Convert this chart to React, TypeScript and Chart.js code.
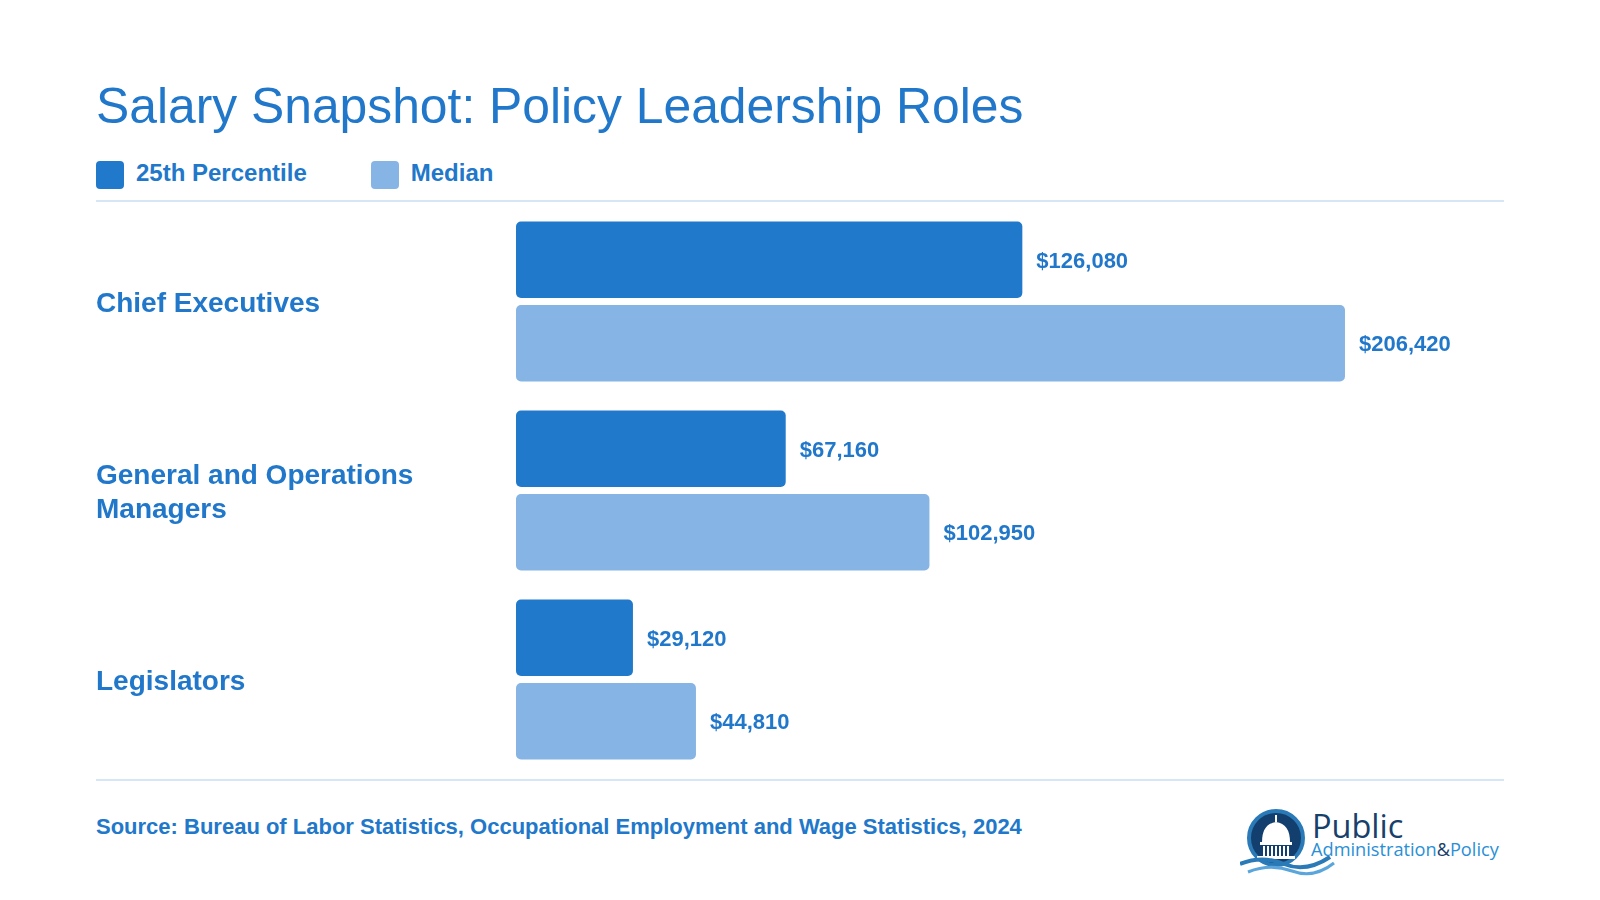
import React, { useEffect, useRef } from "react";
import { Chart, registerables } from "chart.js";

Chart.register(...registerables);

// ---- data ----
const categories: (string | string[])[] = [
  "Chief Executives",
  ["General and Operations", "Managers"],
  "Legislators",
];
const seriesNames = ["25th Percentile", "Median"];
const percentile25 = [126080, 67160, 29120];
const medianWage = [206420, 102950, 44810];
const xAxisMax = 250000;

const titleText = "Salary Snapshot: Policy Leadership Roles";
const sourceText =
  "Source: Bureau of Labor Statistics, Occupational Employment and Wage Statistics, 2024";

// ---- styles ----
const DARK = "#2179cb";
const LIGHT = "#86b4e4";
const TEXT = "#2178ca";
const RULE = "#d6e6f4";
const FONT = '"Liberation Sans", Arial, Helvetica, sans-serif';
const seriesColors = [DARK, LIGHT];

const valueLabelPlugin = {
  id: "valueLabels",
  afterDatasetsDraw(chart: any) {
    const ctx = chart.ctx;
    ctx.save();
    ctx.font = `bold 22px ${FONT}`;
    ctx.fillStyle = TEXT;
    ctx.textAlign = "left";
    ctx.textBaseline = "middle";
    chart.data.datasets.forEach((ds: any, di: number) => {
      const meta = chart.getDatasetMeta(di);
      meta.data.forEach((el: any, i: number) => {
        const v = ds.data[i] as number;
        ctx.fillText("$" + v.toLocaleString("en-US"), el.x + 14, el.y + 2);
      });
    });
    ctx.restore();
  },
};

function BarChart() {
  const ref = useRef<HTMLCanvasElement | null>(null);
  useEffect(() => {
    if (!ref.current) return;
    const chart = new Chart(ref.current, {
      type: "bar",
      data: {
        labels: categories,
        datasets: [
          {
            label: seriesNames[0],
            data: percentile25,
            backgroundColor: seriesColors[0],
            borderRadius: 5,
            borderSkipped: false,
            categoryPercentage: 0.884,
            barPercentage: 0.916,
          },
          {
            label: seriesNames[1],
            data: medianWage,
            backgroundColor: seriesColors[1],
            borderRadius: 5,
            borderSkipped: false,
            categoryPercentage: 0.884,
            barPercentage: 0.916,
          },
        ],
      },
      options: {
        indexAxis: "y",
        animation: false,
        responsive: false,
        maintainAspectRatio: false,
        layout: { padding: { left: 96, right: 80, top: 0, bottom: 0 } },
        plugins: {
          legend: { display: false },
          tooltip: { enabled: false },
          title: { display: false },
        },
        scales: {
          x: { display: false, min: 0, max: xAxisMax },
          y: {
            position: "left",
            grid: { display: false, drawTicks: false },
            border: { display: false },
            ticks: {
              crossAlign: "far",
              padding: 0,
              labelOffset: 3,
              color: TEXT,
              font: { family: FONT, size: 28, weight: "bold", lineHeight: 1.22 },
            },
            afterFit(scale: any) {
              scale.width = 420;
            },
          },
        },
      },
      plugins: [valueLabelPlugin],
    } as any);
    return () => chart.destroy();
  }, []);
  return <canvas ref={ref} width={1600} height={601} />;
}

function Logo() {
  const cols = [23, 27, 31, 35, 39, 43, 47];
  return (
    <svg
      width={280}
      height={85}
      viewBox="0 0 280 85"
      style={{ position: "absolute", left: 1240, top: 800 }}
    >
      <circle cx={36} cy={38} r={27} fill="#123f6e" stroke="#2a7ab8" strokeWidth={4} />
      <rect x={35} y={15} width={2} height={7} fill="#fff" />
      <path d="M22 42 Q22 24 36 22 Q50 24 50 42 Z" fill="#fff" />
      <rect x={20} y={42} width={32} height={3} fill="#fff" />
      {cols.map((c) => (
        <rect key={c} x={c} y={46} width={2} height={10} fill="#fff" />
      ))}
      <rect x={17} y={56} width={38} height={3} fill="#fff" />
      <path d="M0 64 Q22 55 44 64 T90 57" stroke="#2a7ab8" strokeWidth={4} fill="none" />
      <path d="M8 72 Q30 63 52 71 T94 63" stroke="#5aa6dc" strokeWidth={3} fill="none" />
      <text x={72} y={38} fontFamily='"Open Sans", sans-serif' fontSize={32.5} fill="#17406b">
        Public
      </text>
      <text x={71} y={56} fontFamily='"Open Sans", sans-serif' fontSize={18.2} fill="#2a8fd6">
        Administration<tspan fill="#17406b">&amp;</tspan>Policy
      </text>
    </svg>
  );
}

export default function App() {
  return (
    <div
      style={{
        position: "absolute",
        left: 0,
        top: 0,
        width: 1600,
        height: 900,
        background: "#fff",
        fontFamily: FONT,
        overflow: "hidden",
      }}
    >
      <div
        style={{
          position: "absolute",
          left: 96,
          top: 81,
          fontSize: 49.8,
          lineHeight: "50px",
          color: TEXT,
          whiteSpace: "nowrap",
        }}
      >
        {titleText}
      </div>
      <div
        style={{
          position: "absolute",
          left: 96,
          top: 161,
          height: 28,
          display: "flex",
          alignItems: "center",
        }}
      >
        {seriesNames.map((name, i) => (
          <div key={name} style={{ display: "flex", alignItems: "center", marginRight: 64 }}>
            <div
              style={{
                width: 28,
                height: 28,
                borderRadius: 4,
                background: seriesColors[i],
                marginRight: 12,
              }}
            />
            <span
              style={{
                fontSize: 24,
                fontWeight: "bold",
                color: TEXT,
                lineHeight: "28px",
                position: "relative",
                top: -2,
              }}
            >
              {name}
            </span>
          </div>
        ))}
      </div>
      <div style={{ position: "absolute", left: 96, top: 200, width: 1408, height: 2, background: RULE }} />
      <div style={{ position: "absolute", left: 96, top: 779, width: 1408, height: 2, background: RULE }} />
      <div style={{ position: "absolute", left: 0, top: 190 }}>
        <BarChart />
      </div>
      <div
        style={{
          position: "absolute",
          left: 96,
          top: 816,
          fontSize: 22,
          lineHeight: "22px",
          fontWeight: "bold",
          color: TEXT,
          whiteSpace: "nowrap",
        }}
      >
        {sourceText}
      </div>
      <Logo />
    </div>
  );
}
